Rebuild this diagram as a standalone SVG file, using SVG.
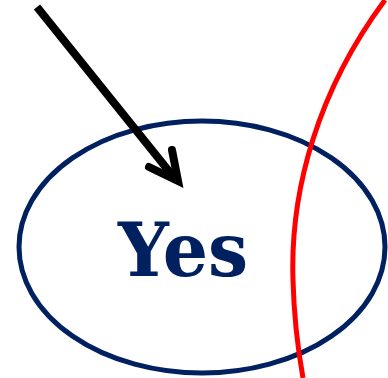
<svg xmlns="http://www.w3.org/2000/svg" width="388" height="378" viewBox="0 0 388 378">
<style>
.node{fill:none;stroke:#002060;stroke-width:5}
.lbl{font-family:"DejaVu Serif",serif;font-weight:bold;fill:#002060;font-size:74px}
.arrow{fill:none;stroke:#000;stroke-width:8}
.red{fill:none;stroke:#ff0000;stroke-width:5}
</style>
<rect width="388" height="378" fill="#fff"/>
<g id="yes">
<ellipse class="node" cx="202" cy="247" rx="183" ry="126"/>
<text class="lbl" x="183" y="276" text-anchor="middle" textLength="130" lengthAdjust="spacingAndGlyphs">Yes</text>
</g>
<g id="boundary">
<path class="red" d="M385,0 C318,90 290,190 293,280 C294,320 298,350 303,378"/>
</g>
<g id="connectors">
<line class="arrow" x1="37" y1="7" x2="176" y2="180"/>
<polyline class="arrow" points="149,167 178,181 172,150" stroke-linecap="round" stroke-linejoin="miter"/>
</g>
</svg>
